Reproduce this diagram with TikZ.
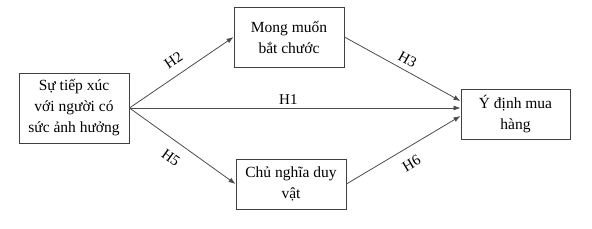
\documentclass[tikz,border=0pt]{standalone}
\usepackage{fontspec}
\setmainfont{Liberation Serif}
\usetikzlibrary{arrows.meta,calc}
\begin{document}
\begin{tikzpicture}[x=1pt,y=-1pt,
  box/.style={draw=black!75,line width=0.9pt,align=center,inner sep=0pt,font=\fontsize{15.5}{21}\selectfont},
  conn/.style={draw=black!70,line width=0.8pt,-{Latex[length=7pt,width=5pt]}},
  lab/.style={font=\fontsize{15}{16}\selectfont,sloped,inner sep=2pt}]
\useasboundingbox (0,0) rectangle (592,229);
\node[box,minimum width=110pt,minimum height=70pt] (L) at (74,108) {Sự tiếp xúc\\với người có\\sức ảnh hưởng};
\node[box,minimum width=110pt,minimum height=60pt] (M) at (289,37) {Mong muốn\\bắt chước};
\node[box,minimum width=110pt,minimum height=50pt] (C) at (291,184) {Chủ nghĩa duy\\vật};
\node[box,minimum width=109pt,minimum height=50pt] (Y) at (515.5,114) {Ý định mua\\hàng};
\coordinate (Y1) at ($(Y.west)+(0,-6)$);
\coordinate (Y3) at ($(Y.west)+(0,-13)$);
\coordinate (Y6) at ($(Y.west)+(0,2)$);
\draw[conn] (L.east) -- node[lab,above=7pt,pos=0.5] {H2} (M.west);
\draw[conn] (L.east) -- node[lab,below=9pt,pos=0.48] {H5} (C.west);
\draw[conn] (L.east) -- node[lab,above=1pt,pos=0.48] {H1} (Y1);
\draw[conn] (M.east) -- node[lab,above=3pt,pos=0.5] {H3} (Y3);
\draw[conn] (C.east) -- node[lab,below=8pt,pos=0.5] {H6} (Y6);
\end{tikzpicture}
\end{document}
